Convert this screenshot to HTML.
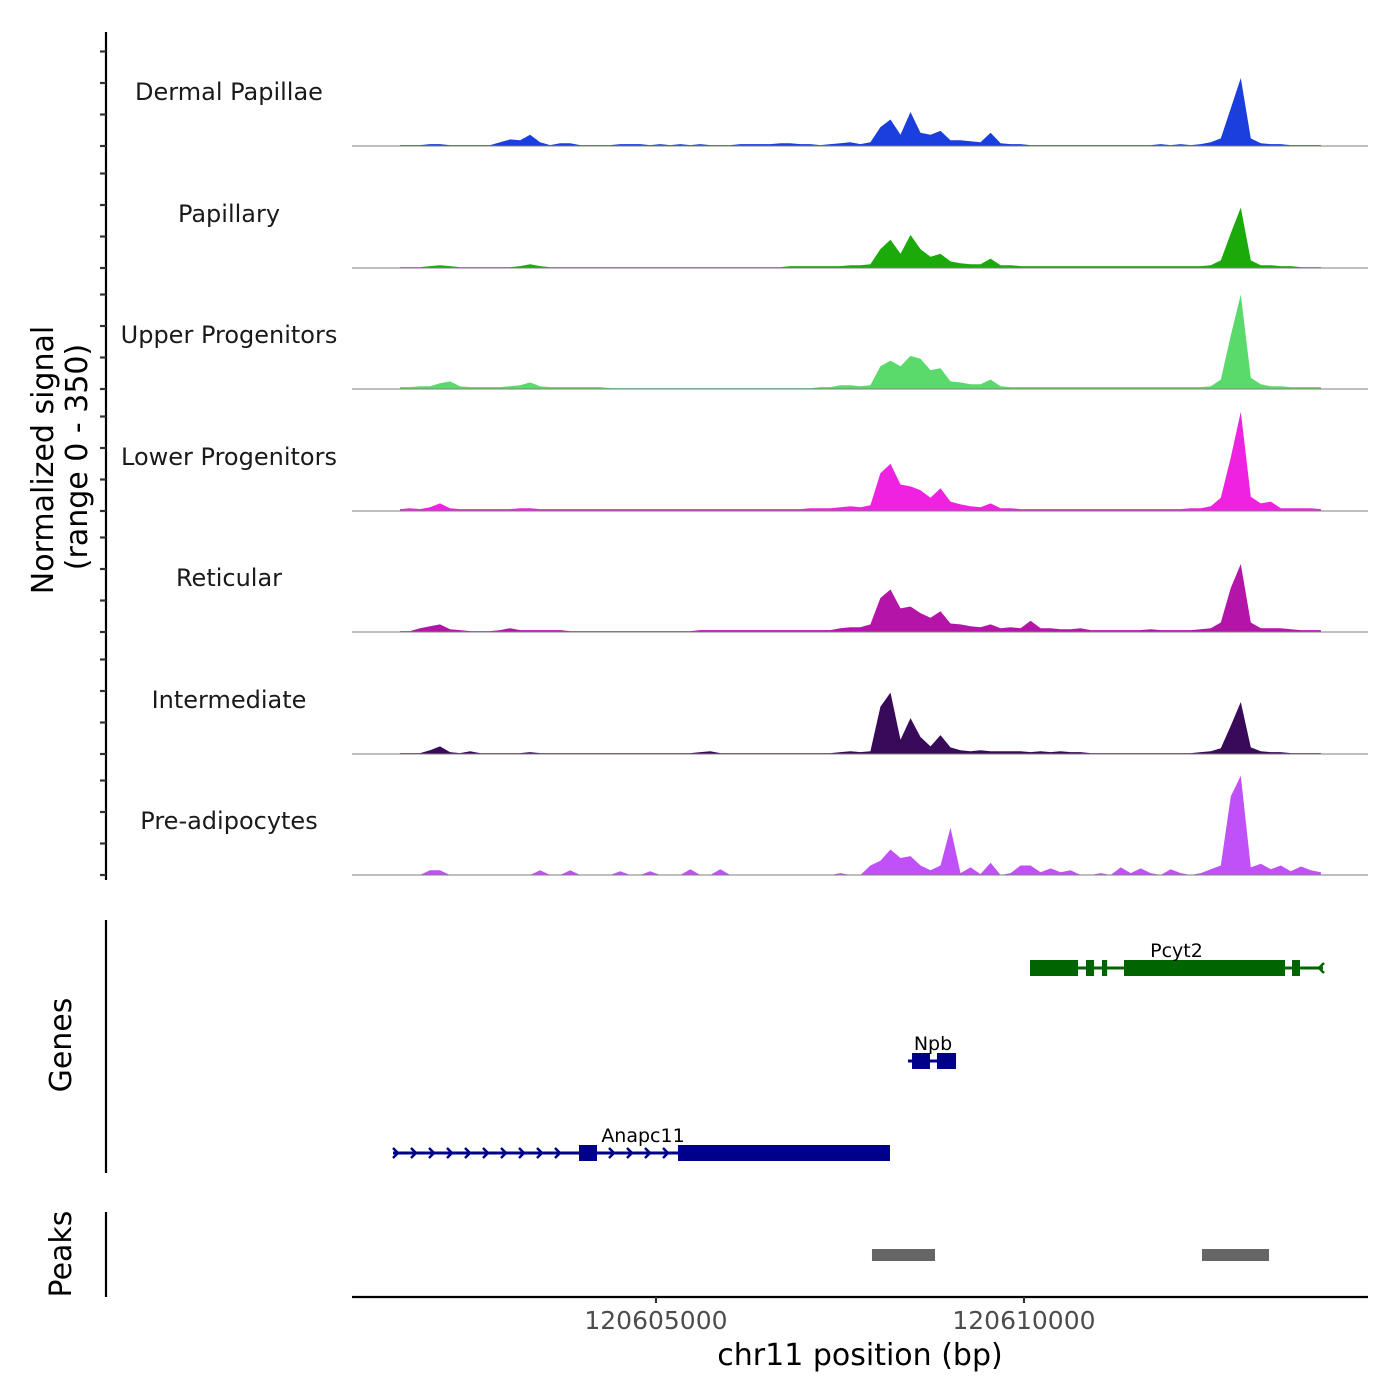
<!DOCTYPE html>
<html><head><meta charset="utf-8">
<style>
html,body{margin:0;padding:0;background:#fff;}
svg{display:block;font-family:"DejaVu Sans","Liberation Sans",sans-serif;}
</style></head>
<body>
<svg id="chart" width="1400" height="1400" viewBox="0 0 1400 1400" xmlns="http://www.w3.org/2000/svg"></svg>
<script>
// ---- data ----
const trackNames = ["Dermal Papillae","Papillary","Upper Progenitors","Lower Progenitors","Reticular","Intermediate","Pre-adipocytes"];
const trackColors = ["#1a3fdc","#1aab0a","#5ada6a","#ee22e0","#b414a8","#3a0a5a","#c050f8"];
const binStart = 120601522;
const binStep = 136;
const dermalPapillae = [3,3,3,6,6,3,3,3,3,3, 12,21,18,36,12,3,9,9,3,3, 3,3,6,6,6,3,6,3,6,3, 6,3,3,3,6,6,6,6,9,9, 6,6,3,6,9,12,6,12,60,84, 36,108,42,36,48,18,18,15,12,42, 9,6,6,3,3,3,3,3,3,3, 3,3,3,3,3,3,6,3,6,3, 6,12,24,120,216,24,9,6,6,3, 3,3,3];
const papillary = [3,3,3,6,9,6,3,3,3,3, 3,3,6,12,6,3,3,3,3,3, 3,3,3,3,3,3,3,3,3,3, 3,3,3,3,3,3,3,3,3,6, 6,6,6,6,6,9,9,12,60,90, 45,105,60,36,45,21,15,12,12,30, 9,9,6,6,6,6,6,6,6,6, 6,6,6,6,6,6,6,6,6,6, 6,9,24,110,192,24,9,9,6,6, 3,3,3];
const upperProgenitors = [6,6,9,9,18,24,9,6,6,6, 6,9,12,21,9,6,6,6,6,6, 6,3,3,3,3,3,3,3,3,3, 3,3,3,3,3,3,3,3,3,3, 3,3,6,6,12,12,9,12,72,90, 72,105,96,60,66,24,21,15,15,30, 9,6,6,6,6,6,6,6,6,6, 6,6,6,6,6,6,6,6,6,6, 6,9,30,170,300,36,15,9,9,6, 6,6,6];
const lowerProgenitors = [6,9,6,12,24,9,6,6,6,6, 6,6,9,9,6,6,6,6,6,6, 6,6,6,6,6,6,6,6,6,6, 6,6,6,6,6,6,6,6,6,6, 6,9,9,9,12,15,12,18,120,150, 84,78,66,42,72,30,21,15,12,24, 9,9,6,6,6,6,6,6,6,6, 6,6,6,6,6,6,6,6,6,9, 9,15,42,170,315,45,24,30,9,9, 9,9,6];
const reticular = [3,3,12,18,24,9,6,3,3,3, 6,12,6,6,6,6,6,3,3,3, 3,3,3,3,3,3,3,3,3,3, 6,6,6,6,6,6,6,6,6,6, 6,6,6,6,12,15,15,24,108,135, 75,81,60,45,66,27,24,18,15,24, 12,15,12,36,12,12,9,9,12,6, 6,6,6,6,6,9,6,6,6,6, 9,12,30,140,216,30,12,12,12,9, 6,6,6];
const intermediate = [3,3,3,12,24,6,3,9,3,3, 3,3,3,6,3,3,3,3,3,3, 3,3,3,3,3,3,3,3,3,3, 6,9,3,3,3,3,3,3,3,3, 3,3,3,3,6,9,6,9,150,195, 45,114,54,24,60,21,12,9,12,9, 9,9,9,6,9,6,9,6,6,3, 3,3,3,3,3,3,3,3,3,3, 6,9,18,90,165,21,9,6,6,3, 3,3,3];
const preAdipocytes = [0,0,0,15,15,0,0,0,0,0, 0,0,0,0,15,0,0,15,0,0, 0,0,12,0,0,12,0,0,0,18, 0,0,18,0,0,0,0,0,0,0, 0,0,0,0,6,0,0,30,45,81, 54,60,30,15,30,150,6,24,3,39, 0,6,30,30,9,21,9,15,0,0, 6,0,24,6,21,6,0,18,6,0, 6,18,30,250,315,24,36,18,30,12, 27,15,9];
const trackValues = [dermalPapillae,papillary,upperProgenitors,lowerProgenitors,reticular,intermediate,preAdipocytes];
const xTicks = [120605000,120610000];
const xTickLabels = ["120605000","120610000"];
const yTicks = [0,100,200,300];
const geneNames = ["Pcyt2","Npb","Anapc11"];
const geneStarts = [120610082,120608424,120601427];
const geneEnds = [120614063,120609077,120608180];
const geneStrands = ["-","+","+"];
const geneColors = ["#006400","#00008b","#00008b"];
const geneExons = [
  [[120610082,120610734],[120610843,120610952],[120611060,120611130],[120611359,120613547],[120613642,120613750]],
  [[120608479,120608723],[120608818,120609077]],
  [[120603954,120604199],[120605299,120608180]]
];
const peakStarts = [120607935,120612419];
const peakEnds = [120608791,120613329];

// ---- scales ----
const X0 = 352, X1 = 1368, BP0 = 120600870, PXPERBP = 0.0736;
function xs(bp){ return X0 + (bp - BP0) * PXPERBP; }
const baselines = [146,268,389,511,632,754,875];
function ys(v, t){ return baselines[t] - v * 0.315; }

const NS = "http://www.w3.org/2000/svg";
const svg = document.getElementById("chart");
function el(tag, attrs, parent){
  const e = document.createElementNS(NS, tag);
  for (const k in attrs) e.setAttribute(k, attrs[k]);
  (parent || svg).appendChild(e);
  return e;
}

// ---- y axis (coverage) ----
const yAxis = el("line",{x1:106,y1:32,x2:106,y2:880,stroke:"#000","stroke-width":2.2});


for (let t=0;t<7;t++){
  for (const v of yTicks){
    const tk = el("line",{x1:100,y1:ys(v,t),x2:106,y2:ys(v,t),stroke:"#333","stroke-width":2.2});
    
    
  }
}
const yt = el("text",{transform:"translate(53,460) rotate(-90)","text-anchor":"middle","font-size":30,fill:"#000"});
yt.textContent = "Normalized signal";


const yt2 = el("text",{transform:"translate(87,457) rotate(-90)","text-anchor":"middle","font-size":30,fill:"#000"});
yt2.textContent = "(range 0 - 350)";



// ---- tracks ----
for (let t=0;t<7;t++){
  const g = el("g",{});
  
  
  const vals = trackValues[t];
  let d = "M" + xs(binStart) + "," + baselines[t];
  for (let i=0;i<vals.length;i++){
    d += " L" + xs(binStart + i*binStep).toFixed(1) + "," + ys(vals[i],t).toFixed(1);
  }
  d += " L" + xs(binStart + (vals.length-1)*binStep).toFixed(1) + "," + baselines[t] + " Z";
  const area = el("path",{d:d,fill:trackColors[t],stroke:"none"},g);
  
  
  const bl = el("line",{x1:X0,y1:baselines[t],x2:X1,y2:baselines[t],stroke:"#7f7f7f","stroke-width":1},g);
  
  
  const lab = el("text",{x:229,y:baselines[t]-46,"text-anchor":"middle","font-size":24,fill:"#1a1a1a"},g);
  lab.textContent = trackNames[t];
  
  
}

// ---- genes ----
const gAxis = el("line",{x1:106,y1:920,x2:106,y2:1173,stroke:"#000","stroke-width":2.2});


const gt = el("text",{transform:"translate(71,1045) rotate(-90)","text-anchor":"middle","font-size":30,fill:"#000"});
gt.textContent = "Genes";


const geneRows = [968,1061,1153];
for (let k=0;k<geneNames.length;k++){
  const g = el("g",{});
  
  
  const y = geneRows[k], c = geneColors[k];
  const x1 = xs(geneStarts[k]), x2 = xs(geneEnds[k]);
  const ln = el("line",{x1:x1,y1:y,x2:x2,y2:y,stroke:c,"stroke-width":3},g);
  
  
  const step = 18;
  for (let ax = x1 + 3; ax < x2 - 2; ax += step){
    const inside = geneExons[k].some(e => ax > xs(e[0]) - 4 && ax < xs(e[1]) + 4);
    if (inside) continue;
    const dir = geneStrands[k] === "+" ? 1 : -1;
    const ar = el("polyline",{points:(ax-3*dir)+","+(y-5)+" "+(ax+2*dir)+","+y+" "+(ax-3*dir)+","+(y+5),fill:"none",stroke:c,"stroke-width":2.5},g);
    
    
  }
  for (const e of geneExons[k]){
    const r = el("rect",{x:xs(e[0]),y:y-8,width:Math.max(3,xs(e[1])-xs(e[0])),height:16,fill:c},g);
    
    
  }
  const lab = el("text",{x:(k===2?643:(x1+x2)/2+(k===0?0:1)),y:y-11,"text-anchor":"middle","font-size":19,fill:"#000"},g);
  lab.textContent = geneNames[k];
  
  
}

// ---- peaks ----
const pAxis = el("line",{x1:106,y1:1212,x2:106,y2:1297,stroke:"#000","stroke-width":2.2});


const pt = el("text",{transform:"translate(71,1254) rotate(-90)","text-anchor":"middle","font-size":30,fill:"#000"});
pt.textContent = "Peaks";


for (let k=0;k<peakStarts.length;k++){
  const r = el("rect",{x:xs(peakStarts[k]),y:1249,width:xs(peakEnds[k])-xs(peakStarts[k]),height:12,fill:"#666"});
  
  
}

// ---- x axis ----
const xAxis = el("line",{x1:X0,y1:1297,x2:X1,y2:1297,stroke:"#000","stroke-width":2.2});


for (let i=0;i<xTicks.length;i++){
  const x = xs(xTicks[i]);
  const tk = el("line",{x1:x,y1:1297,x2:x,y2:1303,stroke:"#333","stroke-width":2.2});
  
  
  const tl = el("text",{x:x,y:1329,"text-anchor":"middle","font-size":25,fill:"#4d4d4d"});
  tl.textContent = xTickLabels[i];
  
  
}
const xt = el("text",{x:860,y:1365,"text-anchor":"middle","font-size":30,fill:"#000"});
xt.textContent = "chr11 position (bp)";


</script>
</body></html>
